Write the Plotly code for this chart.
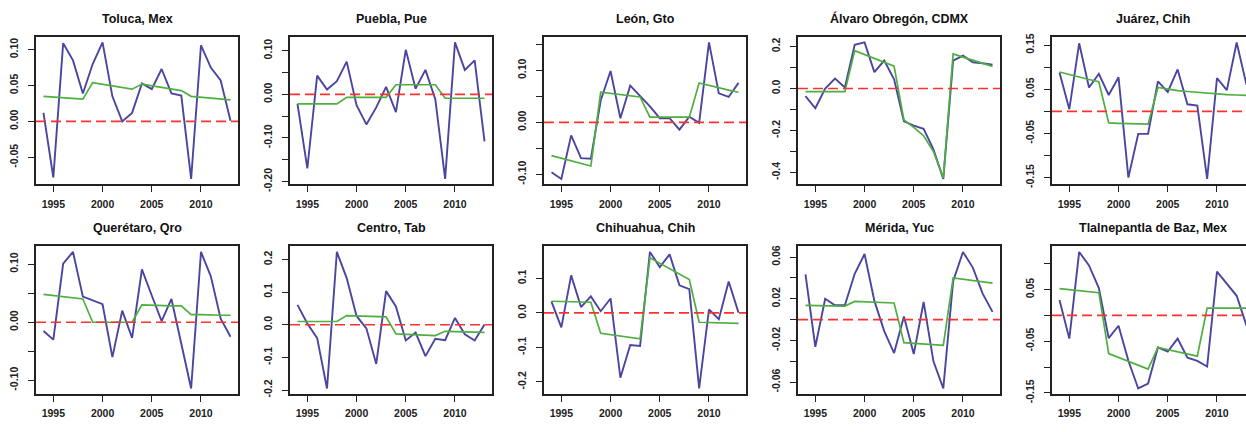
import plotly.graph_objects as go

years = list(range(1994, 2014))

titles = ["Toluca, Mex", "Puebla, Pue", "León, Gto", "Álvaro Obregón, CDMX", "Juárez, Chih",
          "Querétaro, Qro", "Centro, Tab", "Chihuahua, Chih", "Mérida, Yuc", "Tlalnepantla de Baz, Mex"]

toluca_obs = [0.012, -0.078, 0.109, 0.085, 0.039, 0.080, 0.110, 0.035, 0.000, 0.012,
              0.053, 0.045, 0.073, 0.039, 0.036, -0.080, 0.106, 0.075, 0.057, 0.001]
toluca_fit = [0.035, 0.034, 0.033, 0.032, 0.031, 0.054, 0.052, 0.049, 0.047, 0.045,
              0.052, 0.050, 0.048, 0.046, 0.043, 0.035, 0.034, 0.033, 0.032, 0.030]

puebla_obs = [-0.022, -0.170, 0.043, 0.011, 0.030, 0.075, -0.025, -0.069, -0.030, 0.017,
              -0.041, 0.102, 0.013, 0.056, -0.011, -0.194, 0.119, 0.056, 0.078, -0.108]
puebla_fit = [-0.022, -0.022, -0.022, -0.022, -0.022, -0.007, -0.007, -0.007, -0.007, -0.007,
              0.022, 0.022, 0.022, 0.022, 0.022, -0.009, -0.009, -0.009, -0.009, -0.009]

leon_obs = [-0.096, -0.109, -0.025, -0.069, -0.070, 0.042, 0.099, 0.008, 0.071, 0.052,
            0.031, 0.008, 0.008, -0.014, 0.011, -0.001, 0.154, 0.056, 0.049, 0.076]
leon_fit = [-0.064, -0.069, -0.074, -0.079, -0.084, 0.058, 0.056, 0.054, 0.051, 0.049,
            0.010, 0.010, 0.010, 0.010, 0.010, 0.076, 0.071, 0.067, 0.062, 0.058]

alvaro_obs = [-0.036, -0.094, 0.000, 0.047, 0.005, 0.208, 0.219, 0.078, 0.133, 0.044,
              -0.156, -0.177, -0.192, -0.289, -0.430, 0.133, 0.156, 0.125, 0.120, 0.113]
alvaro_fit = [-0.015, -0.015, -0.015, -0.015, -0.015, 0.180, 0.161, 0.143, 0.124, 0.106,
              -0.150, -0.185, -0.225, -0.300, -0.425, 0.164, 0.149, 0.134, 0.120, 0.105]

juarez_obs = [0.088, 0.005, 0.154, 0.054, 0.085, 0.037, 0.077, -0.150, -0.051, -0.051,
              0.068, 0.044, 0.095, 0.016, 0.013, -0.153, 0.075, 0.048, 0.156, 0.060]
juarez_fit = [0.089, 0.083, 0.077, 0.072, 0.067, -0.026, -0.027, -0.028, -0.028, -0.029,
              0.054, 0.050, 0.047, 0.045, 0.043, 0.041, 0.039, 0.038, 0.037, 0.036]

queretaro_obs = [-0.015, -0.030, 0.101, 0.121, 0.044, 0.037, 0.031, -0.060, 0.020, -0.027,
                 0.091, 0.046, 0.002, 0.040, -0.039, -0.114, 0.121, 0.079, 0.006, -0.025]
queretaro_fit = [0.048, 0.046, 0.044, 0.042, 0.040, 0.000, 0.000, 0.000, 0.000, 0.000,
                 0.030, 0.029, 0.029, 0.028, 0.028, 0.013, 0.013, 0.012, 0.012, 0.012]

centro_obs = [0.061, 0.004, -0.041, -0.195, 0.223, 0.143, 0.027, -0.011, -0.120, 0.103,
              0.056, -0.048, -0.024, -0.096, -0.043, -0.047, 0.021, -0.029, -0.048, 0.001]
centro_fit = [0.010, 0.010, 0.010, 0.010, 0.010, 0.028, 0.027, 0.026, 0.025, 0.024,
              -0.028, -0.029, -0.030, -0.031, -0.033, -0.020, -0.021, -0.021, -0.022, -0.023]

chihuahua_obs = [0.033, -0.042, 0.109, 0.017, 0.048, 0.005, 0.042, -0.188, -0.093, -0.096,
                 0.177, 0.133, 0.170, 0.080, 0.069, -0.219, 0.010, -0.018, 0.091, 0.001]
chihuahua_fit = [0.034, 0.033, 0.033, 0.032, 0.031, -0.059, -0.063, -0.067, -0.071, -0.075,
                 0.160, 0.144, 0.128, 0.113, 0.097, -0.027, -0.028, -0.028, -0.029, -0.030]

merida_obs = [0.0434, -0.026, 0.020, 0.0138, 0.0138, 0.044, 0.063, 0.018, -0.011, -0.032,
              0.003, -0.033, 0.017, -0.040, -0.066, 0.037, 0.065, 0.050, 0.025, 0.0075]
merida_fit = [0.0138, 0.0136, 0.0134, 0.0132, 0.0130, 0.0175, 0.0172, 0.0168, 0.0164, 0.0160,
              -0.0220, -0.0227, -0.0233, -0.0240, -0.0247, 0.0400, 0.0388, 0.0375, 0.0363, 0.0350]

tlalne_obs = [0.030, -0.045, 0.123, 0.097, 0.053, -0.044, -0.020, -0.088, -0.1415, -0.132,
              -0.062, -0.070, -0.045, -0.082, -0.088, -0.099, 0.085, 0.062, 0.038, -0.020]
tlalne_fit = [0.052, 0.050, 0.048, 0.046, 0.044, -0.074, -0.0815, -0.089, -0.0965, -0.104,
              -0.062, -0.066, -0.070, -0.075, -0.079, 0.014, 0.014, 0.014, 0.014, 0.014]

observed = [toluca_obs, puebla_obs, leon_obs, alvaro_obs, juarez_obs,
            queretaro_obs, centro_obs, chihuahua_obs, merida_obs, tlalne_obs]
fitted = [toluca_fit, puebla_fit, leon_fit, alvaro_fit, juarez_fit,
          queretaro_fit, centro_fit, chihuahua_fit, merida_fit, tlalne_fit]

x_tick_vals = [1995, 2000, 2005, 2010]
x_tick_text = ["1995", "2000", "2005", "2010"]

y_tick_vals = [
    [-0.05, 0.00, 0.05, 0.10],
    [-0.20, -0.15, -0.10, -0.05, 0.00, 0.05, 0.10],
    [-0.10, -0.05, 0.00, 0.05, 0.10, 0.15],
    [-0.4, -0.3, -0.2, -0.1, 0.0, 0.1, 0.2],
    [-0.15, -0.10, -0.05, 0.00, 0.05, 0.10, 0.15],
    [-0.10, -0.05, 0.00, 0.05, 0.10],
    [-0.2, -0.1, 0.0, 0.1, 0.2],
    [-0.2, -0.1, 0.0, 0.1],
    [-0.06, -0.04, -0.02, 0.00, 0.02, 0.04, 0.06],
    [-0.15, -0.10, -0.05, 0.00, 0.05, 0.10],
]
y_tick_text = [
    ["-0.05", "0.00", "0.05", "0.10"],
    ["-0.20", "", "-0.10", "", "0.00", "", "0.10"],
    ["-0.10", "", "0.00", "", "0.10", ""],
    ["-0.4", "", "-0.2", "", "0.0", "", "0.2"],
    ["-0.15", "", "-0.05", "", "0.05", "", "0.15"],
    ["-0.10", "", "0.00", "", "0.10"],
    ["-0.2", "-0.1", "0.0", "0.1", "0.2"],
    ["-0.2", "-0.1", "0.0", "0.1"],
    ["-0.06", "", "-0.02", "", "0.02", "", "0.06"],
    ["-0.15", "", "-0.05", "", "0.05", ""],
]

# ---- layout geometry (pixels) ----
W, H = 1246, 432
panel_left0, panel_step, panel_w = 36, 254, 202
row_top = [34, 250]
panel_h = 152
title_y = [15, 231]
x_lo, x_hi = 1993.24, 2013.76

BLUE = "#4a46a0"
GREEN = "#4fae40"
RED = "#ff3030"
AX = "#222222"
FONT = "Liberation Sans, Arial, sans-serif"
TICKFONT = "Liberation Sans Narrow, Arial Narrow, Liberation Sans, Arial, sans-serif"

fig = go.Figure()
annotations = []
shapes = []

for i in range(10):
    r, c = divmod(i, 5)
    idx = "" if i == 0 else str(i + 1)
    xa, ya = "x" + idx, "y" + idx

    left = panel_left0 + c * panel_step
    right = left + panel_w
    xr = [x_lo, x_hi]
    clipped = right > W
    if clipped:
        xr = [x_lo, x_lo + (x_hi - x_lo) * (W - left) / panel_w]
        right = W
    top = row_top[r]
    bottom = top + panel_h

    obs, fit = observed[i], fitted[i]
    lo, hi = min(obs + fit), max(obs + fit)
    pad = 0.04 * (hi - lo)

    fig.add_trace(go.Scatter(x=years, y=obs, mode="lines", xaxis=xa, yaxis=ya,
                             line=dict(color=BLUE, width=1.9), showlegend=False, hoverinfo="skip"))
    fig.add_trace(go.Scatter(x=years, y=fit, mode="lines", xaxis=xa, yaxis=ya,
                             line=dict(color=GREEN, width=1.7), showlegend=False, hoverinfo="skip"))

    shapes.append(dict(type="line", xref=xa + " domain", yref=ya, x0=0, x1=1, y0=0, y1=0,
                       line=dict(color=RED, width=1.7, dash="10px,5px"), layer="above"))

    common = dict(showline=True, linecolor=AX, linewidth=1.8, ticks="outside", ticklen=6,
                  tickwidth=1.4, tickcolor=AX, showgrid=False, zeroline=False,
                  tickfont=dict(family=TICKFONT, size=10.5, color="#222", weight="bold"))
    fig.layout[("xaxis" + idx)] = dict(
        domain=[left / W, right / W], range=xr, anchor=ya,
        tickvals=x_tick_vals, ticktext=x_tick_text, mirror=True,
        ticklabelstandoff=3, **common)
    fig.layout[("yaxis" + idx)] = dict(
        domain=[1 - bottom / H, 1 - top / H], range=[lo - pad, hi + pad], anchor=xa,
        tickvals=y_tick_vals[i], ticktext=y_tick_text[i], tickangle=-90,
        mirror=(not clipped), ticklabelstandoff=6, **common)

    annotations.append(dict(text="<b>" + titles[i] + "</b>", xref="paper", yref="paper",
                            x=(left + panel_w / 2) / W,
                            y=1 - title_y[r] / H, xanchor="center", yanchor="middle",
                            showarrow=False, font=dict(family=FONT, size=12.5, color="#111")))

fig.update_layout(width=W, height=H, margin=dict(l=0, r=0, t=0, b=0),
                  paper_bgcolor="white", plot_bgcolor="white",
                  annotations=annotations, shapes=shapes)

fig.write_html("out.html")
